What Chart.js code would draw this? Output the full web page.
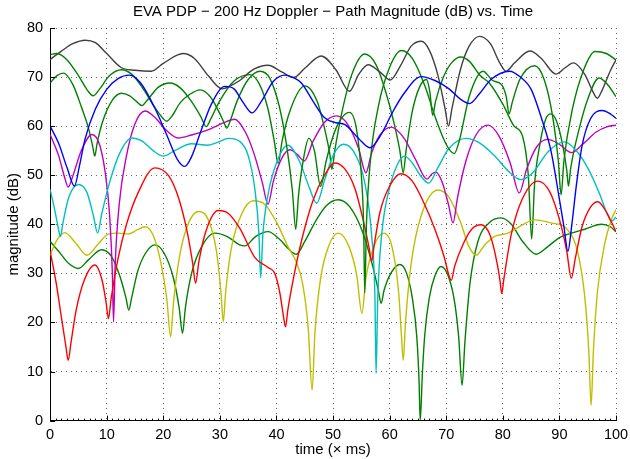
<!DOCTYPE html>
<html lang="en">
<head>
<meta charset="UTF-8">
<title>EVA PDP - Path Magnitude</title>
<script src="https://cdn.jsdelivr.net/npm/chart.js"></script>
<style>
    body { margin: 0; background: #fff; }
    #wrap { width: 630px; height: 459px; }
</style>
</head>
<body>
<div id="wrap"><canvas id="pdp" width="630" height="459"></canvas></div>
<script>
// path magnitudes, [time (ms), dB]
const blackPath = [[0,73.6],[2,75.3],[4,76.8],[6.2,77.5],[8,77],[10,74.8],[12.6,71.9],[15,71.4],[17.9,71.2],[20,72.8],[23.5,74.8],[25.5,73.8],[28,70.2],[30.4,67.6],[32,68.3],[33.5,69.3],[36,71.6],[38.5,72.4],[41,71],[43,69.9],[45,71.8],[47.9,74.3],[50.5,71.5],[52.9,67.1],[54.5,70.5],[56.2,72.5],[58.3,71],[60.1,69.4],[62,72.5],[63.8,76.3],[65.6,77.3],[67,75.5],[68.5,70.5],[69.8,63.5],[70.4,60],[71,63.5],[72.5,71.5],[74,76.2],[75.9,78.3],[77.8,76.8],[79.5,72.8],[80.6,71.2],[82,72.8],[84.8,75.3],[86.8,73.8],[89.4,70.6],[91,71.9],[92.5,72.9],[94.5,70.5],[95.8,67.3],[96.7,65.7],[97.5,67.2],[99,71.3],[100,73.5]];

const bluePath = [[0,60],[1.5,56.5],[3,51.5],[4.3,47.8],[5.2,52],[6.2,57.5],[8,63.5],[10,67.5],[12,69.7],[14,70.4],[16,68.8],[18.5,63.7],[20.5,58.5],[22.5,53.2],[23.8,51.8],[25,53.8],[26.5,58.5],[28.5,64.5],[30.9,68.1],[32.5,67.6],[34,65],[35.7,62.7],[37.3,65],[39.5,69.2],[41.5,70.4],[43,69.9],[44.4,68.8],[46.5,65],[48.5,61.7],[50.5,60.7],[52.1,60.3],[54.5,57.5],[56.5,55.6],[58.5,58.3],[60.5,62.8],[62.5,66.6],[65.6,70.1],[68,69.3],[70.5,67.6],[72.5,65.5],[74.1,64.6],[75.8,66.5],[78,69.6],[81.2,71.2],[83,70.1],[85,67.5],[87,61],[88.5,55],[89.8,46.5],[90.8,39.5],[91.5,34.5],[92.2,40],[93,48],[94,56],[95.5,61.5],[97.6,63.2],[99,62.5],[100,61.6]];

const magentaPath = [[0,58.3],[1.5,54],[2.5,49.8],[3.2,47.6],[4,49.8],[5.5,55],[7.4,58.3],[8.8,56],[9.8,50],[10.5,42],[11,30],[11.2,20.1],[11.5,32],[12.2,44],[13.5,54],[15,60.5],[16.8,63.1],[18.5,61.8],[20.5,59.2],[22.6,57.6],[25,58.2],[28,59.3],[30.5,60.6],[32.6,61.4],[34.5,58.8],[36,54.5],[37.5,48.5],[38.5,44.1],[39.5,49],[41,53.6],[42.4,55.2],[43.7,54.2],[44.9,52.9],[46.5,57],[48.5,60.8],[50.6,62.1],[52.5,60.5],[54.5,55.5],[55.8,50.5],[56.8,54.5],[58.3,58.2],[60.3,59.8],[62.5,57.6],[64.5,53.4],[66.6,49.2],[67.5,50.3],[68.2,50.6],[69.3,48.5],[70.4,44],[71.2,40.3],[72,45.5],[73.5,53],[75.3,58.3],[77.4,60.2],[79.3,58],[81.3,52.5],[82.9,46.4],[84.2,51.2],[86,55.8],[87.9,57.3],[90,56.3],[92.1,54.6],[94,56.2],[96.5,58.8],[98.5,59.9],[100,60.2]];

const cyanPath = [[0,47.1],[0.8,43],[1.4,39.5],[1.8,37.5],[2.3,40.5],[3.3,45.5],[5,48.1],[6.5,46.5],[7.6,42],[8.4,38.2],[9.1,42],[10.5,48.5],[12.3,54.5],[14.4,57.6],[16.2,57],[18.2,55],[20,53.9],[22,55],[25,56.4],[27.9,56.1],[29.8,56.8],[31.5,57.5],[33.5,56.9],[35,54],[36.2,47],[36.9,38],[37.2,29.1],[37.6,38],[38.5,46],[40,52.5],[42,56.1],[44,53],[45.8,47.5],[47.1,44.3],[48.5,49],[50,54],[51.8,56.3],[53.8,54.5],[55.6,48.5],[56.8,38],[57.4,25],[57.6,9.6],[57.9,25],[58.6,38],[60,47.5],[61.5,52.5],[62.6,53.9],[64,52.5],[65.4,50],[66.9,48.4],[68.5,51.5],[70.5,55.5],[73.5,57.5],[76,56.5],[78.5,54],[81,50.8],[83.2,49.1],[85.3,50.5],[88,54.8],[90.9,56.8],[93,55],[95,51.5],[97,46.5],[98.5,42],[99.2,40.6],[100,41.5]];

const redPath = [[0,34.5],[1,28.5],[2,21],[2.8,15],[3.2,12.3],[3.7,16],[4.6,22.5],[6,28.5],[7.9,31.7],[9.2,28.5],[9.9,24],[10.3,20.8],[10.8,25],[12,33],[13.5,40],[15.5,46.3],[18.5,51.5],[21,49.8],[22.8,45],[24.3,38],[25.2,32],[25.7,28],[26.3,32.5],[27.5,38.5],[29.7,42.8],[31.5,42.2],[33.5,39.2],[36.2,33.2],[38.5,31.2],[39.7,30],[40.6,26],[41.2,21.5],[41.6,19.1],[42,22.5],[43,29],[44.5,37],[46.5,45],[48.5,50],[50.3,52.5],[52,51.4],[53.8,47.5],[55.5,40],[56.4,35],[56.8,32.4],[57.3,36],[58.3,42.5],[60,47.8],[62,50.3],[64,48.8],[66,44.5],[68,39],[69.6,33.5],[70.5,29.5],[70.9,28.6],[71.5,31.5],[73,36],[74.5,39],[76.2,39.9],[77.8,37.6],[79,32],[79.5,28.5],[79.8,25.9],[80.2,29],[81.5,38],[83.5,45.3],[86.2,48.8],[88.3,46.6],[90,41],[91.3,34.5],[92.1,29],[92.8,33],[94,39.5],[95.5,43.5],[96.8,44.6],[98.3,42.5],[100,38.5]];

const yellowPath = [[0,33.7],[1.2,36.8],[2.6,38.3],[4.5,36.2],[6.5,33.7],[8.5,36],[10.3,38],[12,38.2],[13.8,38],[15.3,38.8],[16.8,39.5],[18.3,37.5],[19.6,32],[20.6,25],[21.3,17.1],[21.8,24],[22.8,33],[24.2,39.5],[26.2,42.6],[28,40.8],[29.4,34.5],[30.2,26],[30.6,20.1],[31,26],[32,35],[33.8,42],[35.9,44.8],[38,44],[40.2,40],[42,35.5],[43.5,32.3],[44.6,28],[45.6,19],[46.3,6.2],[46.8,18],[47.8,29],[49.2,35.5],[50.9,38.2],[52.8,35.5],[54.2,29.5],[55.1,21.8],[55.8,29],[57.2,35.5],[59,38.2],[60.5,35],[61.6,26],[62.1,17],[62.4,12.3],[62.8,20],[63.8,32],[65.5,41.5],[68.5,47],[70.5,45.5],[72.5,40.5],[74,35.5],[75.3,33.7],[76.8,35.8],[78.5,37.5],[80.9,38.2],[83.2,39.7],[85.6,40.9],[88.5,40.3],[91.5,38.8],[93.3,34],[94.5,25],[95.2,14],[95.6,3.1],[96,14],[96.7,26],[98,36],[99.2,41],[100,43]];

const greenLow = [[0,36.5],[1.5,34.5],[3.3,32],[5,31],[6.8,32.8],[9.1,34.8],[10.8,33.5],[12.3,29.5],[13.4,25],[13.9,22.5],[14.4,25],[15.5,30.5],[16.8,34],[18.5,35.8],[20.2,34],[21.8,29],[22.8,23],[23.4,17.8],[23.9,23],[25,30],[26.8,35.5],[29.1,38.2],[31.3,37.5],[33.5,35.8],[34.4,35.6],[36.3,37.5],[38.5,38.5],[40.5,37],[42.3,34.8],[43.5,33.9],[45,36.5],[47,40.8],[48.8,43.8],[50.9,45],[53,43.5],[55.2,38.5],[57,31.5],[58,26.5],[58.5,23.9],[59,26.5],[60.3,30.2],[61.8,31.8],[63,30],[64,25],[64.8,17],[65.2,8],[65.4,0],[65.8,10],[66.2,17.4],[67,25],[68,29.5],[69.1,31.4],[70.5,29],[71.5,24],[72.2,17],[72.8,7.2],[73.3,16],[74.2,28],[75.6,36.5],[77.8,40.5],[79.7,41.3],[81.5,40],[83.5,36.5],[85.9,33.9],[88,35.5],[90,37.3],[92.1,38.2],[94.5,39],[97.4,40],[99,39.5],[100,38.5]];

const greenHigh = [[0,74.6],[1.2,74.8],[3,73.5],[5,70.3],[6.6,67.3],[7.6,66.2],[8.7,67.5],[10.5,70.3],[12.6,71.5],[14.5,70.5],[16.5,67.5],[18.5,63.8],[20,61.5],[20.6,61],[21.5,62],[23,64.8],[24.7,66.5],[26.5,67.4],[28.3,66],[29.8,63],[30.7,60.8],[31.2,59.6],[31.8,61],[33,65],[35,69.5],[37.1,71.2],[38.8,69.8],[40.5,64],[41.8,56],[42.8,47],[43.4,39],[43.9,46],[44.8,53.5],[45.7,57.5],[46.7,55],[47.8,47.7],[48.8,53],[50.5,59.5],[52.9,62.8],[54.2,59],[55,50],[55.4,40],[55.6,26],[55.9,40],[56.6,53],[58,64],[60,72],[62.1,75.4],[64,73.8],[66.2,68.3],[68,62],[69.5,57.5],[70.7,55],[71.4,54.4],[72.3,57],[74.1,66.2],[76.5,71.2],[78.2,69.3],[79.8,68.4],[80.6,66],[81.1,62.5],[81.7,65],[83,69.5],[85.6,72.3],[87.3,69.5],[88.8,62],[89.8,53],[90.3,46],[90.8,53],[92.3,63.5],[94.3,71.5],[96.3,75.2],[98.3,74.8],[100,73.5]];

const greenMid = [[0,68.8],[1.2,70.3],[2.4,70.8],[4,68.5],[5.5,64],[6.8,59.5],[7.5,56],[7.9,53.9],[8.3,56.5],[9.3,61],[11,65.3],[12.6,66.7],[14,66.2],[15.3,65],[16.2,64.2],[17.3,65.5],[19.2,68],[21.2,68.8],[23,67.8],[25,65],[26.6,62],[27.6,59.9],[28.4,61.5],[30,65.2],[32.5,69.2],[35.3,70.5],[37,68.5],[38.5,63.5],[39.6,57],[40.3,52.4],[41,57],[42.5,63.5],[45,68.2],[47.2,65],[48.6,59],[49.4,54.5],[49.8,51.2],[50.3,55],[51.5,62.5],[53.3,70.5],[55.6,74.7],[57.6,72.5],[59.3,67],[60.8,60.5],[61.8,55],[62.4,50.5],[62.9,55],[64,63],[65.3,68],[66.5,69.5],[67.1,67],[67.6,62.2],[68.1,65],[69.5,70],[71,73],[72.6,74.1],[74.1,73.2],[76,70.3],[77.6,68.8],[80,64.5],[82,60],[83.5,57.9],[84.5,50],[85.1,37],[85.6,48],[86.5,56],[87.6,61.5],[88.5,62.5],[89.5,61],[90.6,56],[91.3,51],[91.6,47.8],[92,51.5],[93.5,59.5],[95,65.5],[97,69.8],[98.5,68.5],[100,66]];

const xTicks = [0, 10, 20, 30, 40, 50, 60, 70, 80, 90, 100];
const yTicks = [0, 10, 20, 30, 40, 50, 60, 70, 80];

const FONT = "'Liberation Sans', Arial, sans-serif";

function toXY(arr) {
    return arr.map(p => ({ x: p[0], y: p[1] }));
}

function line(label, arr, color) {
    return {
        label: label,
        data: toXY(arr),
        borderColor: color,
        borderWidth: 1.4,
        pointRadius: 0,
        fill: false,
        cubicInterpolationMode: 'monotone'
    };
}

// matlab style ticks pointing into the axes
const innerTicks = {
    id: 'innerTicks',
    afterDraw(chart) {
        const ctx = chart.ctx;
        const a = chart.chartArea;
        const xs = chart.scales.x, ys = chart.scales.y;
        ctx.save();
        ctx.strokeStyle = '#000';
        ctx.lineWidth = 1;
        ctx.beginPath();
        for (let v = 0; v <= 100; v++) {
            const px = Math.round(xs.getPixelForValue(v)) + 0.5;
            const len = (v % 10 === 0) ? 5 : 2;
            ctx.moveTo(px, a.bottom);
            ctx.lineTo(px, a.bottom - len);
        }
        yTicks.forEach(v => {
            const py = Math.round(ys.getPixelForValue(v)) + 0.5;
            ctx.moveTo(a.left, py);
            ctx.lineTo(a.left + 5, py);
        });
        ctx.stroke();
        ctx.restore();
    }
};

new Chart(document.getElementById('pdp'), {
    type: 'line',
    data: {
        datasets: [
            line('path 1', bluePath, '#0000ff'),
            line('path 2', greenHigh, '#008000'),
            line('path 3', redPath, '#ff0000'),
            line('path 4', cyanPath, '#00bfbf'),
            line('path 5', magentaPath, '#bf00bf'),
            line('path 6', yellowPath, '#bfbf00'),
            line('path 7', blackPath, '#404040'),
            line('path 8', greenMid, '#008000'),
            line('path 9', greenLow, '#008000')
        ]
    },
    options: {
        responsive: false,
        animation: false,
        layout: { padding: { left: 5, right: 0, top: 0, bottom: 0 } },
        plugins: {
            legend: { display: false },
            tooltip: { enabled: false },
            title: {
                display: true,
                fullSize: false,
                text: 'EVA PDP \u2212 200 Hz Doppler \u2212 Path Magnitude (dB) vs. Time',
                color: '#000',
                font: { family: FONT, size: 15, weight: 'normal' },
                padding: { top: 3, bottom: 7 }
            }
        },
        scales: {
            x: {
                type: 'linear',
                min: 0,
                max: 100,
                afterBuildTicks: axis => { axis.ticks = xTicks.map(v => ({ value: v })); },
                afterFit: axis => { axis.paddingRight = 14; },
                ticks: { color: '#000', font: { family: FONT, size: 14.5 }, padding: 6, maxRotation: 0 },
                grid: { color: 'rgba(0,0,0,0.6)', lineWidth: 1, drawTicks: false },
                border: { display: true, color: '#000', width: 1, dash: [1, 4] },
                title: {
                    display: true,
                    text: 'time (\u00d7 ms)',
                    color: '#000',
                    font: { family: FONT, size: 15 },
                    padding: { top: -9, bottom: 0 }
                }
            },
            y: {
                min: 0,
                max: 80,
                afterBuildTicks: axis => { axis.ticks = yTicks.map(v => ({ value: v })); },
                ticks: { color: '#000', font: { family: FONT, size: 14.5 }, padding: 7 },
                grid: { color: 'rgba(0,0,0,0.6)', lineWidth: 1, drawTicks: false },
                border: { display: true, color: '#000', width: 1, dash: [1, 4] },
                title: {
                    display: true,
                    text: 'magnitude (dB)',
                    color: '#000',
                    font: { family: FONT, size: 15 },
                    padding: { top: 0, bottom: -3 }
                }
            }
        }
    },
    plugins: [innerTicks]
});
</script>
</body>
</html>
